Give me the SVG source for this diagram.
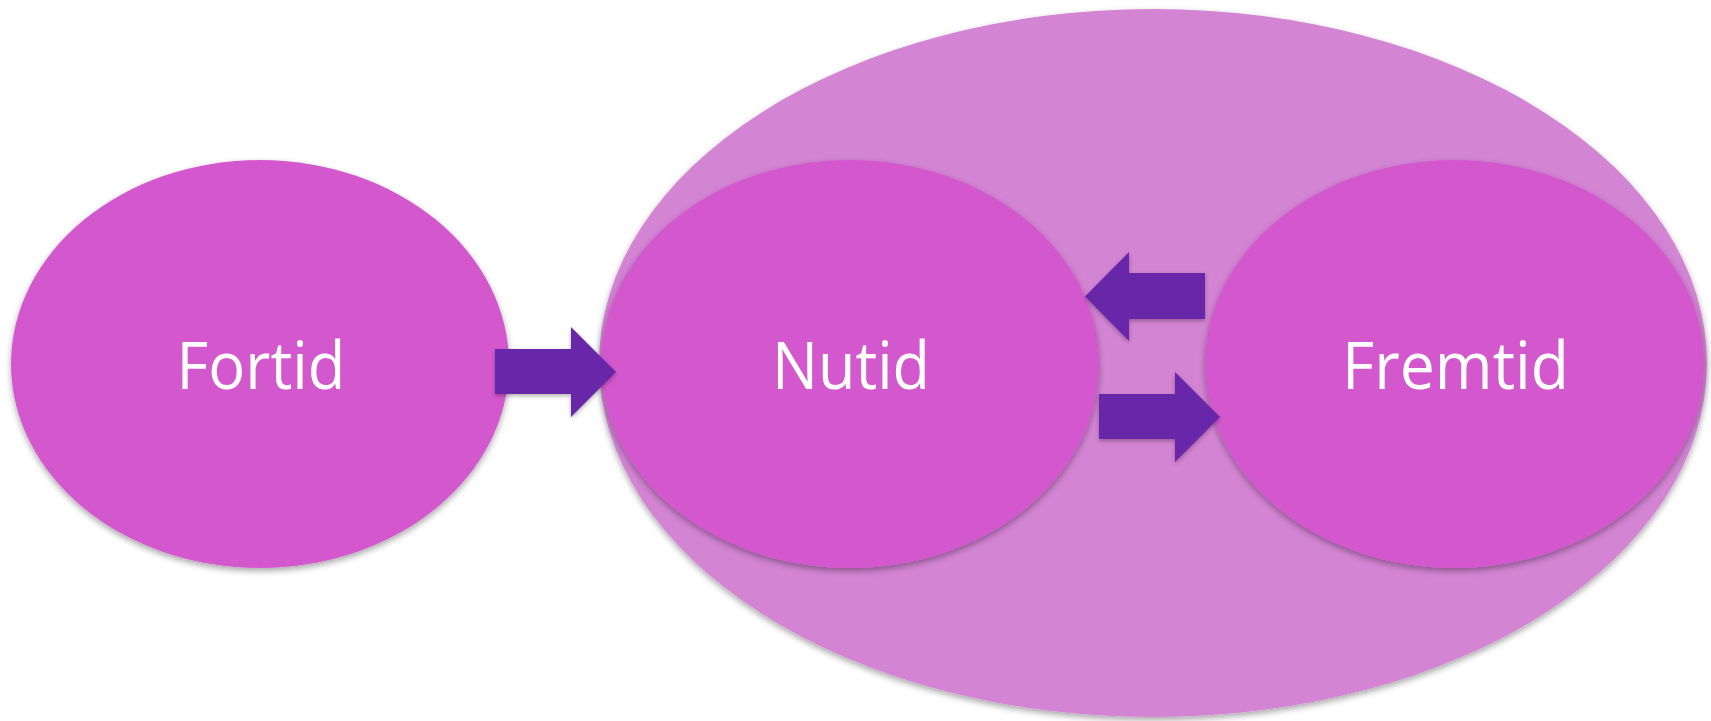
<svg xmlns="http://www.w3.org/2000/svg" width="1711" height="721" viewBox="0 0 1711 721">
<defs>
<filter id="sh" x="-10%" y="-10%" width="120%" height="125%">
<feDropShadow dx="0" dy="3" stdDeviation="3" flood-color="#000" flood-opacity="0.35"/>
</filter>
<filter id="shA" x="-10%" y="-10%" width="120%" height="130%">
<feDropShadow dx="0" dy="2" stdDeviation="2" flood-color="#000" flood-opacity="0.3"/>
</filter>
<style>
.big{fill:#D384D3;}
.node{fill:#D358CD;}
.lbl{font-family:"Open Sans","Liberation Sans",sans-serif;font-size:66px;fill:#FFFFFF;text-anchor:middle;}
.arr{fill:#6826A8;}
</style>
</defs>
<g id="present-future">
<ellipse class="big" cx="1153" cy="363" rx="554" ry="354" filter="url(#sh)"/>
</g>
<g id="fortid">
<ellipse class="node" cx="260" cy="364" rx="249" ry="204" filter="url(#sh)"/>
<text class="lbl" x="261" y="389" textLength="169" lengthAdjust="spacingAndGlyphs">Fortid</text>
</g>
<g id="nutid">
<ellipse class="node" cx="850" cy="364" rx="249" ry="204" filter="url(#sh)"/>
<text class="lbl" x="851" y="389" textLength="158" lengthAdjust="spacingAndGlyphs">Nutid</text>
</g>
<g id="fremtid">
<ellipse class="node" cx="1454.5" cy="364" rx="249.5" ry="204" filter="url(#sh)"/>
<text class="lbl" x="1455.5" y="389" textLength="227" lengthAdjust="spacingAndGlyphs">Fremtid</text>
</g>
<g id="connectors">
<polygon class="arr" filter="url(#shA)" points="495,349 571,349 571,327 616,372 571,417 571,394 495,394"/>
<polygon class="arr" filter="url(#shA)" points="1205,273 1129,273 1129,252 1085,296.5 1129,341 1129,319 1205,319"/>
<polygon class="arr" filter="url(#shA)" points="1099,394 1175,394 1175,372 1220,417 1175,462 1175,439 1099,439"/>
</g>
</svg>
